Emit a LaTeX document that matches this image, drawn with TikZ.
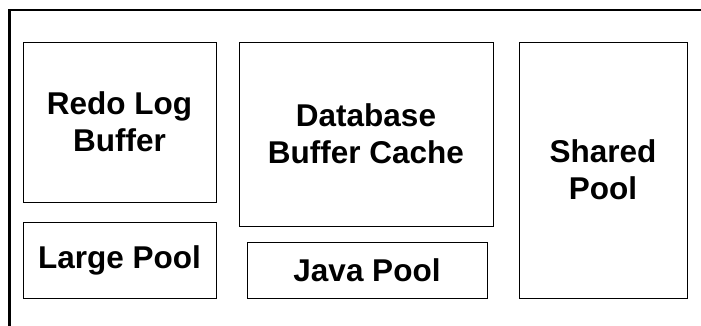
\documentclass[tikz,border=0pt]{standalone}
\usepackage{fontspec}
\setmainfont{Liberation Sans}
\begin{document}
\begin{tikzpicture}[x=1pt, y=-1pt,
  pool/.style={draw=black, line width=1pt, inner sep=0pt, align=center,
    font=\bfseries\fontsize{31.5}{37}\selectfont},
  frame/.style={draw=black, line width=2.6pt}]
  \useasboundingbox (0,0) rectangle (701,325);
  \clip (0,0) rectangle (701,325);
  % enclosing SGA frame (only its top and left edges fall inside the page)
  \draw[frame] (9.5,340) -- (9.5,10) -- (720,10);
  % memory pools
  \node[pool, minimum width=193pt, minimum height=160pt] (redo) at (119.5,122) {Redo Log\\Buffer};
  \node[pool, minimum width=254pt, minimum height=184pt] (dbcache) at (366,134) {Database\\Buffer Cache};
  \node[pool, minimum width=168pt, minimum height=256pt] (shared) at (603,170) {Shared\\Pool};
  \node[pool, minimum width=193pt, minimum height=76pt] (large) at (119.5,260) {Large Pool};
  \node[pool, minimum width=240pt, minimum height=56pt] (java) at (367,270) {Java Pool};
\end{tikzpicture}
\end{document}
